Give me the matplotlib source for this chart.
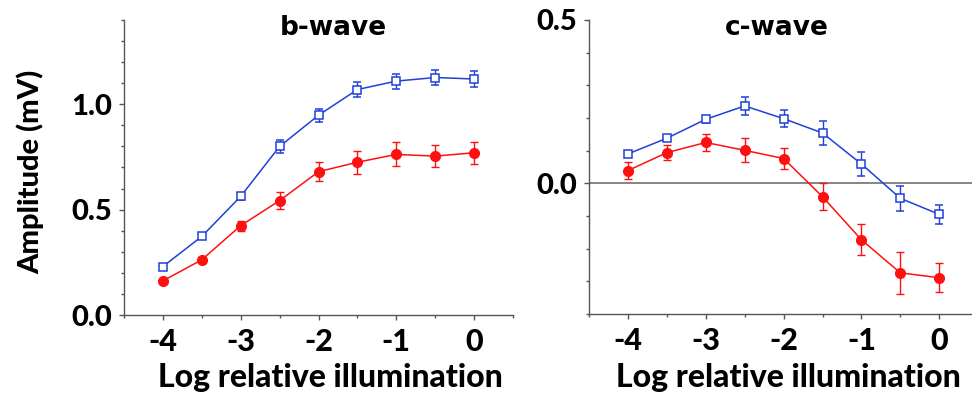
import matplotlib
matplotlib.use("Agg")
import matplotlib.pyplot as plt
from matplotlib.ticker import MultipleLocator, FixedLocator

# Log relative illumination
x = [-4, -3.5, -3, -2.5, -2, -1.5, -1, -0.5, 0]

# b-wave amplitudes (mV)
b_blue = [0.23, 0.373, 0.563, 0.80, 0.948, 1.07, 1.11, 1.127, 1.12]
b_blue_err = [0.01, 0.01, 0.015, 0.029, 0.032, 0.035, 0.036, 0.035, 0.036]
b_red = [0.162, 0.262, 0.424, 0.543, 0.68, 0.725, 0.762, 0.754, 0.77]
b_red_err = [0.01, 0.015, 0.024, 0.04, 0.046, 0.055, 0.057, 0.053, 0.052]

# c-wave amplitudes (mV)
c_blue = [0.090, 0.138, 0.196, 0.237, 0.198, 0.154, 0.059, -0.046, -0.095]
c_blue_err = [0.005, 0.008, 0.01, 0.028, 0.027, 0.036, 0.038, 0.038, 0.029]
c_red = [0.039, 0.094, 0.125, 0.101, 0.076, -0.041, -0.173, -0.274, -0.289]
c_red_err = [0.025, 0.023, 0.025, 0.037, 0.031, 0.042, 0.047, 0.065, 0.044]

xticks = [-4, -3, -2, -1, 0]

BLUE = "#2040d8"
RED = "#ff1010"
FONT = "Lato"
WEIGHT = 900

fig = plt.figure(figsize=(9.72, 4.01), dpi=100)
ax1 = fig.add_axes([124/972, 1 - 315/401, (513 - 124)/972, (315 - 20)/401])
ax2 = fig.add_axes([589/972, 1 - 314/401, (972 - 589)/972, (314 - 20)/401])


def draw(ax, yb, eb, yr, er):
    ax.errorbar(x, yb, yerr=eb, color=BLUE, lw=1.1, elinewidth=1, capsize=3,
                marker='s', ms=6, mfc='white', mec=BLUE, mew=1.1, zorder=3)
    ax.errorbar(x, yr, yerr=er, color=RED, lw=1.1, elinewidth=1, capsize=3,
                marker='o', ms=7, mfc=RED, mec=RED, zorder=4)
    for s in ['top', 'right']:
        ax.spines[s].set_visible(False)
    for s in ['left', 'bottom']:
        ax.spines[s].set_color('#555555')
        ax.spines[s].set_linewidth(1)
    ax.xaxis.set_major_locator(FixedLocator(xticks))
    ax.xaxis.set_minor_locator(MultipleLocator(0.5))
    ax.yaxis.set_major_locator(MultipleLocator(0.5))
    ax.yaxis.set_minor_locator(MultipleLocator(0.1))
    ax.tick_params(which='both', direction='out', color='#555555', width=1)
    ax.tick_params(which='major', length=3.5)
    ax.tick_params(which='minor', length=2.5)
    ax.tick_params(axis='x', which='major', pad=6, labelsize=22)
    ax.tick_params(axis='y', which='major', pad=5, labelsize=21)


draw(ax1, b_blue, b_blue_err, b_red, b_red_err)
ax1.set_xlim(-4.5, 0.5)
ax1.set_ylim(0, 1.4)
ax1.set_yticks([0, 0.5, 1.0])
ax1.set_yticklabels(['0.0', '0.5', '1.0'], fontfamily=FONT, fontweight=WEIGHT)
ax1.set_xticklabels([str(t) for t in xticks], fontfamily=FONT, fontweight=WEIGHT)

draw(ax2, c_blue, c_blue_err, c_red, c_red_err)
ax2.axhline(0, color='#707070', lw=1.2, zorder=1)
ax2.set_xlim(-4.5, 0.42)
ax2.set_ylim(-0.4, 0.5)
ax2.set_yticks([0, 0.5])
ax2.set_yticklabels(['0.0', '0.5'], fontfamily=FONT, fontweight=WEIGHT)
ax2.set_xticklabels([str(t) for t in xticks], fontfamily=FONT, fontweight=WEIGHT)

# titles and labels
fig.text(333/972, 1 - 35/401, "b-wave", ha='center', va='baseline',
         fontsize=19, fontweight='bold', family='DejaVu Sans')
fig.text(777/972, 1 - 35/401, "c-wave", ha='center', va='baseline',
         fontsize=19, fontweight='bold', family='DejaVu Sans')
fig.text(330/972, 1 - 387/401, "Log relative illumination", ha='center', va='baseline',
         fontsize=23, fontweight=WEIGHT, family=FONT)
fig.text(788/972, 1 - 387/401, "Log relative illumination", ha='center', va='baseline',
         fontsize=23, fontweight=WEIGHT, family=FONT)
fig.text(30/972, 1 - 172/401, "Amplitude (mV)", ha='center', va='center',
         rotation=90, fontsize=21, fontweight=WEIGHT, family=FONT)

fig.savefig("out.png", dpi=100)
